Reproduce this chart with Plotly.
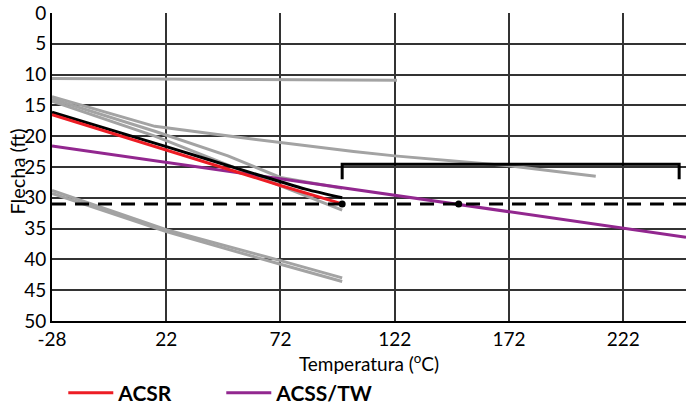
import plotly.graph_objects as go

# ---------------- data ----------------
x_ticks = [-28, 22, 72, 122, 172, 222]
x_labels = ["-28", "22", "72", "122", "172", "222"]
y_ticks = [0, 5, 10, 15, 20, 25, 30, 35, 40, 45, 50]

# ACSR (red)
acsr_t = [-28, 22, 72, 99]
acsr_f = [16.5, 22.3, 28.0, 31.0]

# ACSS/TW (purple)
acss_t = [-28, 249.5]
acss_f = [21.6, 36.4]

# black conductor
blk_t = [-28, 22, 72, 83, 99]
blk_f = [16.1, 21.7, 27.4, 28.6, 30.0]

# grey conductors
g1_t = [-28, 123]
g1_f = [10.65, 10.9]
g2_t = [-28, 17, 52, 104, 122, 172, 210]
g2_f = [13.6, 18.4, 20.1, 22.5, 23.2, 24.8, 26.5]
g3_t = [-28, 17, 49, 72, 99]
g3_f = [13.95, 19.2, 23.2, 26.7, 28.45]
g4_t = [-28, 17, 99]
g4_f = [14.3, 20.0, 32.0]
g5_t = [-28, 22, 72, 99]
g5_f = [28.8, 35.2, 40.2, 43.0]
g6_t = [-28, 22, 72, 99]
g6_f = [29.3, 35.5, 40.8, 43.6]

# dashed limit line
limit_t = [-28, 249.5]
limit_f = [31.0, 31.0]

# marked points
pts_t = [99, 150]
pts_f = [31.0, 31.0]

# bracket
br_t = [99, 99, 246.5, 246.5]
br_f = [27.0, 24.55, 24.55, 27.0]

RED = "#ed1c24"
PURPLE = "#92278f"
GREY = "#a3a3a3"

fig = go.Figure()

for tx, fy in [(g1_t, g1_f), (g2_t, g2_f), (g3_t, g3_f), (g4_t, g4_f), (g5_t, g5_f), (g6_t, g6_f)]:
    fig.add_trace(go.Scatter(x=tx, y=fy, mode="lines", line=dict(color=GREY, width=3),
                             showlegend=False, hoverinfo="skip"))

fig.add_trace(go.Scatter(x=acss_t, y=acss_f, mode="lines", line=dict(color=PURPLE, width=3),
                         showlegend=False))
fig.add_trace(go.Scatter(x=blk_t, y=blk_f, mode="lines", line=dict(color="black", width=3),
                         showlegend=False, line_shape="spline"))
fig.add_trace(go.Scatter(x=acsr_t, y=acsr_f, mode="lines", line=dict(color=RED, width=3),
                         showlegend=False))
fig.add_trace(go.Scatter(x=limit_t, y=limit_f, mode="lines",
                         line=dict(color="black", width=3, dash="14px,9px"),
                         showlegend=False))
fig.add_trace(go.Scatter(x=br_t, y=br_f, mode="lines", line=dict(color="black", width=3),
                         showlegend=False))
fig.add_trace(go.Scatter(x=pts_t, y=pts_f, mode="markers",
                         marker=dict(color="black", size=7), showlegend=False))

# legend entries
fig.add_trace(go.Scatter(x=[None], y=[None], mode="lines", name="ACSR",
                         line=dict(color=RED, width=3)))
fig.add_trace(go.Scatter(x=[None], y=[None], mode="lines", name="ACSS/TW",
                         line=dict(color=PURPLE, width=3)))

FONT = "Lato"
axis_common = dict(showgrid=True, gridcolor="#333333", gridwidth=1.5, zeroline=False,
                   showline=True, linecolor="black", linewidth=2, ticks="",
                   tickfont=dict(family=FONT, size=19, color="black"))

fig.update_layout(
    width=686, height=414,
    margin=dict(l=52, r=0, t=13, b=93),
    paper_bgcolor="white", plot_bgcolor="white",
    font=dict(family=FONT, color="black"),
    xaxis=dict(range=[-28.01, 249.5], tickvals=x_ticks, ticktext=x_labels, **axis_common,
               title=dict(text="Temperatura (<sup>o</sup>C)", font=dict(family=FONT, size=19),
                          standoff=4)),
    yaxis=dict(range=[50.01, 0], tickvals=y_ticks, **axis_common),
    legend=dict(orientation="h", x=0.0178, xanchor="left", y=-0.234, yanchor="middle",
                font=dict(family=FONT, size=21, weight=700), entrywidth=98, itemwidth=45,
                bgcolor="rgba(0,0,0,0)"),
    showlegend=True,
    annotations=[dict(text="Flecha (ft)", textangle=-90, xref="paper", yref="paper",
                      x=-35 / 634, y=0.485, xanchor="center", yanchor="middle",
                      showarrow=False, font=dict(family=FONT, size=20, color="black"))],
)

fig.write_html("out.html")
